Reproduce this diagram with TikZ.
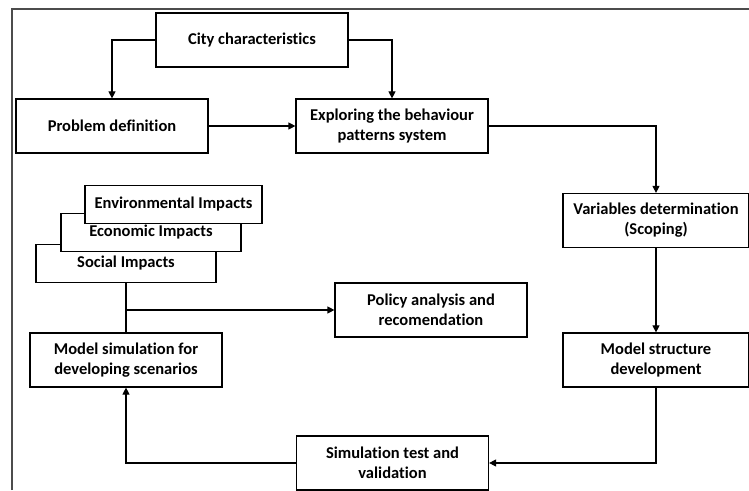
\documentclass[tikz,border=0pt]{standalone}
\usepackage{fontspec}
\setmainfont{Carlito}[Ligatures={NoCommon}]
\usepackage{tikz}
\usetikzlibrary{positioning,arrows.meta}

\tikzset{
  stepbox/.style={draw, line width=1.2pt, fill=white, align=center,
    minimum width=192pt, minimum height=54pt, inner sep=2pt,
    font=\fontsize{16.5}{20}\selectfont\bfseries},
  impactbox/.style={stepbox, minimum width=180pt, minimum height=38pt},
  flow/.style={line width=1.2pt, -{Triangle[length=7pt,width=7pt]}},
}

\begin{document}
\begin{tikzpicture}[on grid]
    \useasboundingbox (0pt,0pt) rectangle (749pt,490pt);

    \coordinate (fb) at (12pt,0pt);
    \coordinate (ft) at (749pt,481pt);
    \draw[line width=1.5pt, black!70] (fb) |- (ft);

    \node[stepbox] (city) at (252pt,450pt) {City characteristics};
    \node[stepbox, below left=86pt and 140pt of city] (prob) {Problem definition};
    \node[stepbox, right=280pt of prob] (expl) {Exploring the behaviour\\patterns system};
    \node[stepbox, below right=94.5pt and 264pt of expl, minimum width=186pt] (vars) {Variables determination\\(Scoping)};
    \node[stepbox, below=139.5pt of vars, minimum width=186pt] (mstruct) {Model structure\\development};
    \node[stepbox, below left=103pt and 263.5pt of mstruct] (simtest) {Simulation test and\\validation};
    \node[stepbox, left=530pt of mstruct] (msim) {Model simulation for\\developing scenarios};
    \node[stepbox, above right=50pt and 305pt of msim] (policy) {Policy analysis and\\recomendation};

    \node[impactbox, above=96.5pt of msim] (social) {Social Impacts};
    \node[impactbox, above right=31pt and 25pt of social] (econ) {Economic Impacts};
    \node[impactbox, above right=28pt and 22.5pt of econ, minimum width=177pt] (env) {Environmental Impacts};

    \draw[flow] (city.west) -| (prob.north);
    \draw[flow] (city.east) -| (expl.north);
    \draw[flow] (prob.east) -- (expl.west);
    \draw[flow] (expl.east) -| (vars.north);
    \draw[flow] (vars.south) -- (mstruct.north);
    \draw[flow] (mstruct.south) |- (simtest.east);
    \draw[flow] (simtest.west) -| (msim.south);
    \draw[line width=1.2pt] (social.south) -- (msim.north);
    \draw[flow] (social.south |- policy.west) -- (policy.west);
\end{tikzpicture}
\end{document}
